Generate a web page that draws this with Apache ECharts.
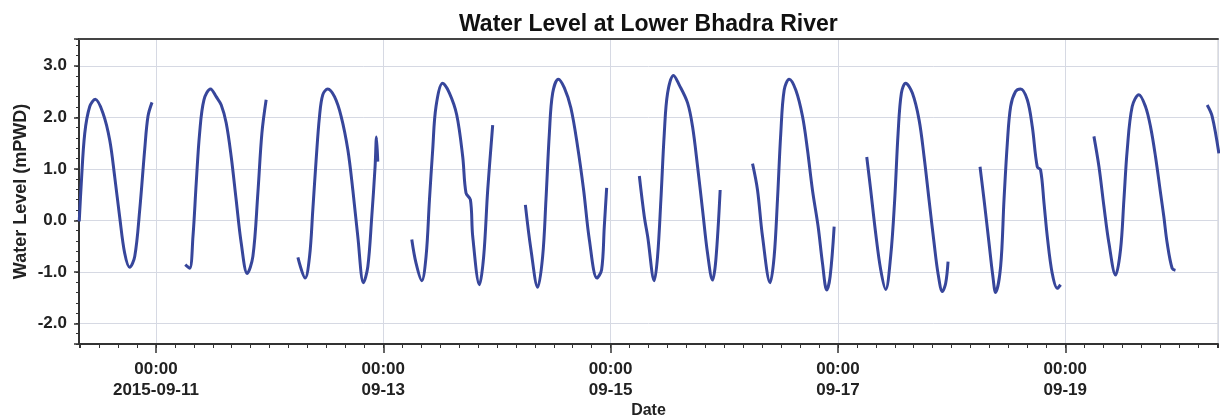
<!DOCTYPE html>
<html><head><meta charset="utf-8">
<script src="https://cdn.jsdelivr.net/npm/echarts@6/dist/echarts.min.js"></script>
<style>html,body{margin:0;padding:0;background:#fff}#c{width:1220px;height:416px}</style>
</head><body><div id="c"></div>
<script>
const chartTitle = 'Water Level at Lower Bhadra River';
const yName = 'Water Level (mPWD)';
const xName = 'Date';
const xStart = '2015-09-10 07:45';
const xEnd = '2015-09-20 08:15';
const yMin = -2.4, yMax = 3.52;

// [time of day, water level (mPWD)] per recorded stretch
const sep10 = [['07:48',-0.02],['08:14',0.72],['08:58',1.69],['10:01',2.21],['11:11',2.35],['12:49',2.08],['14:14',1.56],['15:17',0.85],['16:20',0.07],['17:24',-0.64],['18:27',-0.91],['19:31',-0.70],['20:34',0.20],['21:37',1.37],['22:19',2.02],['23:10',2.29]];
const sep11 = [['06:11',-0.86],['07:07',-0.93],['07:49',-0.31],['08:30',0.72],['09:13',1.69],['10:08',2.34],['11:32',2.55],['12:43',2.40],['13:47',2.24],['14:50',1.89],['15:53',1.24],['16:56',0.40],['18:00',-0.44],['19:16',-1.03],['20:28',-0.70],['21:31',0.53],['22:22',1.69],['23:16',2.34]];
const sep12 = [['05:58',-0.72],['07:30',-1.12],['08:26',-0.70],['09:07',0.20],['09:49',1.17],['10:32',2.02],['11:14',2.44],['12:17',2.55],['13:42',2.40],['15:06',2.02],['16:31',1.37],['17:34',0.59],['18:37',-0.31],['19:49',-1.21],['20:44',-0.90],['21:34',0.07],['22:16',1.04],['22:34',1.62],['22:50',1.14]];
const sep13 = [['06:01',-0.37],['06:55',-0.83],['08:07',-1.17],['09:02',-0.70],['09:45',0.40],['10:26',1.37],['11:08',2.21],['12:33',2.66],['13:58',2.47],['15:30',2.05],['16:46',1.24],['17:28',0.53],['18:24',0.40],['18:53',-0.31],['20:18',-1.25],['21:12',-0.70],['22:03',0.59],['23:06',1.85]];
const sep14 = [['06:00',0.30],['07:11',-0.57],['08:36',-1.30],['09:39',-0.70],['10:21',0.40],['11:04',1.69],['11:46',2.47],['12:58',2.74],['14:14',2.57],['15:37',2.18],['17:02',1.43],['18:18',0.59],['19:31',-0.38],['21:07',-1.12],['22:06',-0.96],['22:40',-0.12],['23:10',0.63]];
const sep15 = [['06:04',0.86],['07:07',0.07],['07:49',-0.31],['09:13',-1.17],['09:55',-0.70],['10:37',0.40],['11:20',1.69],['12:02',2.47],['13:17',2.81],['14:29',2.63],['16:15',2.28],['17:18',1.82],['18:22',1.04],['19:25',0.20],['20:28',-0.64],['21:31',-1.16],['22:13',-0.77],['23:08',0.59]];
const sep16 = [['05:58',1.10],['07:01',0.59],['08:04',-0.31],['09:41',-1.21],['10:32',-0.70],['11:14',0.40],['11:56',1.69],['12:39',2.53],['13:42',2.74],['15:06',2.53],['16:31',2.02],['17:34',1.37],['18:37',0.59],['19:49',-0.12],['20:44',-0.83],['21:38',-1.35],['22:21',-1.09],['23:12',-0.12]];
const sep17 = [['06:05',1.23],['06:55',0.59],['07:58',-0.25],['09:02',-0.96],['10:05',-1.34],['11:08',-0.70],['11:59',0.40],['12:42',1.69],['13:24',2.47],['14:18',2.66],['15:43',2.47],['17:08',1.95],['18:11',1.24],['19:14',0.40],['20:18',-0.44],['21:10',-1.05],['22:03',-1.38],['22:45',-1.22],['23:15',-0.80]];
const sep18 = [['06:00',1.04],['06:51',0.40],['07:54',-0.44],['08:40',-1.05],['09:17',-1.40],['10:21',-0.90],['11:04',0.40],['11:46',1.50],['12:28',2.21],['13:30',2.50],['14:34',2.55],['15:59',2.34],['17:02',1.82],['18:05',1.04],['18:47',0.98],['19:31',0.33],['20:12',-0.31],['21:15',-1.03],['22:19',-1.32],['23:01',-1.25]];
const sep19 = [['06:03',1.63],['07:07',1.04],['08:10',0.27],['09:13',-0.44],['10:37',-1.06],['11:40',-0.57],['12:23',0.40],['13:05',1.37],['14:08',2.21],['15:33',2.44],['16:56',2.21],['18:00',1.82],['19:03',1.24],['20:07',0.53],['20:49',0.07],['21:31',-0.44],['22:34',-0.93],['23:16',-0.97]];
const sep20 = [['05:58',2.24],['07:01',2.02],['08:26',1.30]];

const dayDates = ['2015-09-10','2015-09-11','2015-09-12','2015-09-13','2015-09-14','2015-09-15','2015-09-16','2015-09-17','2015-09-18','2015-09-19','2015-09-20'];
const dayRecords = [sep10, sep11, sep12, sep13, sep14, sep15, sep16, sep17, sep18, sep19, sep20];

function ts(s) { return new Date(s.replace(' ', 'T') + ':00').getTime(); }
const seriesData = [];
dayDates.forEach((d, i) => {
  dayRecords[i].forEach(([t, v]) => seriesData.push([ts(d + ' ' + t), v]));
  seriesData.push([ts(d + ' 23:59'), '-']);
});

const minTs = ts(xStart), maxTs = ts(xEnd);
const DAY = 86400000, HOUR = 3600000;
const pad = n => (n < 10 ? '0' : '') + n;
const FONT = 'Liberation Sans';
const dark = '#333';

const chart = echarts.init(document.getElementById('c'), null, {renderer: 'canvas'});
chart.setOption({
  backgroundColor: '#fff',
  animation: false,
  title: {
    text: chartTitle, left: 454, top: 8,
    textStyle: {fontFamily: FONT, fontSize: 23, fontWeight: 'bold', color: '#111'}
  },
  grid: {left: 79, right: 2, top: 39, bottom: 72, containLabel: false, outerBoundsMode: 'none',
    show: true, borderColor: '#c8c8c8', borderWidth: 1},
  xAxis: [
    {
      type: 'time', min: minTs, max: maxTs, position: 'bottom',
      minInterval: 2 * DAY, maxInterval: 2 * DAY,
      name: xName, nameLocation: 'middle', nameGap: 59, nameMoveOverlap: false,
      nameTextStyle: {fontFamily: FONT, fontSize: 16, fontWeight: 'bold', color: '#222'},
      axisLine: {show: true, onZero: false, lineStyle: {color: dark, width: 2}},
      axisTick: {show: true, length: 9, lineStyle: {color: dark, width: 1.5}},
      axisLabel: {
        fontFamily: FONT, fontSize: 17, fontWeight: 'bold', color: '#222', lineHeight: 21, margin: 15,
        formatter: (val) => {
          const d = new Date(val);
          const md = pad(d.getMonth() + 1) + '-' + pad(d.getDate());
          return pad(d.getHours()) + ':' + pad(d.getMinutes()) + '\n' +
            (val - minTs < 2 * DAY ? d.getFullYear() + '-' + md : md);
        }
      },
      splitLine: {show: true, lineStyle: {color: '#d6d9e3', width: 1}}
    },
    {
      type: 'time', min: minTs, max: maxTs, position: 'bottom',
      minInterval: 4 * HOUR, maxInterval: 4 * HOUR,
      axisLine: {show: false, onZero: false},
      axisTick: {show: true, length: 4, lineStyle: {color: dark, width: 1}},
      axisLabel: {show: false}, splitLine: {show: false}
    },
    {
      type: 'time', min: minTs, max: maxTs, position: 'top',
      axisLine: {show: true, onZero: false, lineStyle: {color: '#444', width: 2}},
      axisTick: {show: false}, axisLabel: {show: false}, splitLine: {show: false}
    }
  ],
  yAxis: [
    {
      type: 'value', min: yMin, max: yMax, splitNumber: 6, position: 'left',
      name: yName, nameLocation: 'middle', nameGap: 49, nameMoveOverlap: false,
      nameTextStyle: {fontFamily: FONT, fontSize: 18, fontWeight: 'bold', color: '#222'},
      axisLine: {show: true, onZero: false, lineStyle: {color: dark, width: 2}},
      axisTick: {show: true, length: 5, lineStyle: {color: dark, width: 1.5}},
      axisLabel: {
        fontFamily: FONT, fontSize: 17, fontWeight: 'bold', color: '#222', margin: 12,
        formatter: v => (Math.abs(v - Math.round(v)) < 1e-6 ? v.toFixed(1) : '')
      },
      splitLine: {show: true, lineStyle: {color: '#d6d9e3', width: 1}}
    },
    {
      type: 'value', min: yMin, max: yMax, interval: 0.2, position: 'left',
      axisLine: {show: false, onZero: false},
      axisTick: {show: true, length: 3, lineStyle: {color: dark, width: 1}},
      axisLabel: {show: false}, splitLine: {show: false}
    }
  ],
  series: [{
    type: 'line', xAxisIndex: 0, yAxisIndex: 0, data: seriesData,
    showSymbol: false, symbol: 'none', smooth: 0.35, connectNulls: false, clip: true,
    lineStyle: {color: '#37469b', width: 3}
  }]
});
</script></body></html>
